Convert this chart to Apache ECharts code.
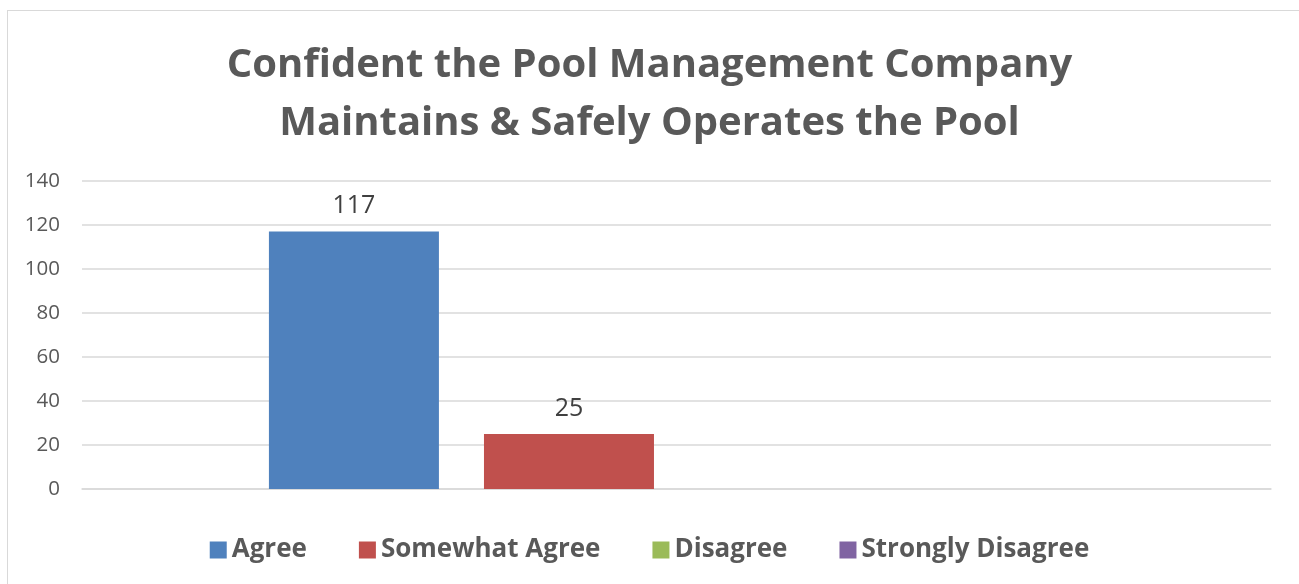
<!DOCTYPE html>
<html>
<head>
<meta charset="utf-8">
<script src="https://cdn.jsdelivr.net/npm/echarts@6/dist/echarts.min.js"></script>
<style>
    html, body { margin: 0; padding: 0; background: #fff; }
    #chart { width: 1299px; height: 584px; position: relative; }
    .frame { position: absolute; left: 7px; top: 10px; width: 1300px; height: 600px; border: 1px solid #d9d9d9; box-sizing: border-box; pointer-events: none; }
</style>
</head>
<body>
<div id="chart"></div>
<div class="frame"></div>
<script>
// 数据
const seriesNames = ['Agree', 'Somewhat Agree', 'Disagree', 'Strongly Disagree']
const seriesValues = [117, 25, 0, 0]
const seriesColors = ['#4f81bd', '#c0504d', '#9bbb59', '#8064a2']
const categories = ['']
const yTicks = [0, 140, 20] // min, max, interval

const font = 'Open Sans, Liberation Sans, sans-serif'

const myCharts = echarts.init(document.getElementById('chart'))

const option = {
    backgroundColor: '#fff',
    animation: false,
    title: {
        text: 'Confident the Pool Management Company\nMaintains & Safely Operates the Pool',
        left: 'center',
        top: 32,
        textStyle: {
            color: '#595959',
            fontFamily: font,
            fontWeight: 'bold',
            fontSize: 40,
            lineHeight: 58
        }
    },
    legend: {
        top: 532,
        left: 'center',
        icon: 'rect',
        itemWidth: 17,
        itemHeight: 17,
        itemGap: 52,
        textStyle: {
            color: '#595959',
            fontFamily: font,
            fontWeight: 'bold',
            fontSize: 26
        },
        data: seriesNames
    },
    grid: {
        left: 82,
        right: 28,
        top: 181,
        bottom: 95,
        containLabel: false
    },
    xAxis: {
        type: 'category',
        data: categories,
        axisLine: { show: true, lineStyle: { color: '#d9d9d9', width: 1.5 } },
        axisTick: { show: false },
        axisLabel: { show: false }
    },
    yAxis: {
        type: 'value',
        min: yTicks[0],
        max: yTicks[1],
        interval: yTicks[2],
        axisLine: { show: false },
        axisTick: { show: false },
        axisLabel: {
            color: '#595959',
            fontFamily: font,
            fontSize: 20.5,
            margin: 22
        },
        splitLine: { lineStyle: { color: '#d9d9d9', width: 1.5 } }
    },
    series: seriesNames.map((name, i) => ({
        name,
        type: 'bar',
        data: [seriesValues[i]],
        barWidth: 170,
        barGap: '26.5%',
        itemStyle: { color: seriesColors[i] },
        label: {
            show: true,
            position: 'top',
            distance: 13,
            color: '#404040',
            fontFamily: font,
            fontSize: 25,
            formatter: p => (p.value ? p.value : '')
        }
    }))
}

myCharts.setOption(option)
</script>
</body>
</html>
